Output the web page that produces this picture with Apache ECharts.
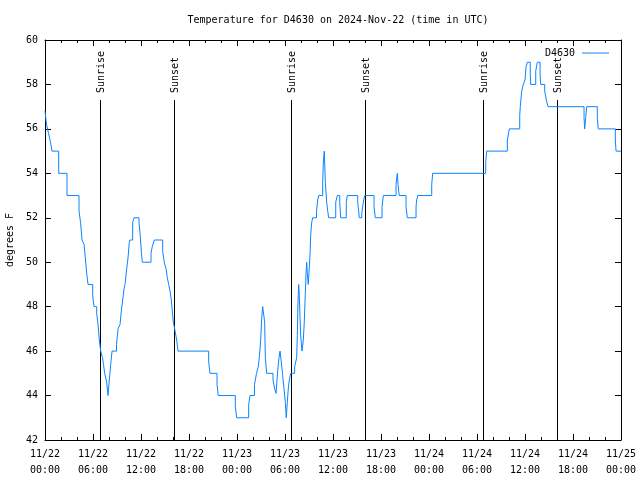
<!DOCTYPE html>
<html>
<head>
<meta charset="utf-8">
<script src="https://cdn.jsdelivr.net/npm/echarts@6/dist/echarts.min.js"></script>
<style>html,body{margin:0;padding:0;background:#fff}#c{width:640px;height:480px}</style>
</head>
<body>
<div id="c"></div>
<script>
// Hours since 11/22 00:00 UTC at which the reading changes, and the temperature (F) from then on
var timeHours = [0,0.19,0.44,0.69,0.88,1.71,2.75,4.25,4.44,4.63,4.88,5.04,5.21,5.38,5.96,6.13,6.46,6.63,6.79,6.96,
7.19,7.31,7.46,7.71,7.88,8.04,8.21,8.38,8.94,9.13,9.38,9.54,9.71,9.88,10.0,10.21,10.38,10.54,10.63,10.96,
11.13,11.75,11.88,12.04,12.16,13.25,13.41,13.66,14.71,14.91,15.13,15.29,15.46,15.63,15.79,15.91,16.04,16.21,16.46,16.63,
20.46,20.63,21.5,21.66,23.79,23.96,25.46,25.63,26.19,26.44,26.66,26.79,26.96,27.09,27.21,27.46,27.54,27.71,28.5,28.71,
28.88,29.0,29.13,29.25,29.38,29.54,29.71,29.88,30.04,30.16,30.29,30.41,30.54,30.71,31.21,31.46,31.54,31.63,31.71,31.79,
31.88,31.96,32.13,32.29,32.41,32.54,32.63,32.71,32.79,32.91,33.04,33.13,33.21,33.34,33.46,33.94,34.09,34.21,34.71,34.79,
34.91,35.04,35.21,35.34,35.46,36.34,36.54,36.84,36.96,37.66,37.79,39.09,39.29,39.59,39.71,39.84,39.96,41.13,41.29,42.13,
42.29,43.88,43.96,44.04,44.13,44.21,44.29,45.13,45.29,46.38,46.46,46.59,48.34,48.46,55.09,55.21,57.79,58.04,59.34,59.41,
59.59,59.79,60.0,60.13,60.29,60.66,60.71,61.34,61.54,61.88,61.96,62.46,62.66,62.88,67.38,67.46,67.59,67.71,69.04,69.16,
71.29,71.38,72];
var tempF = [56.8,56.2,55.8,55.4,55,54,53,52.3,51.8,51,50.8,50.2,49.5,49,48.5,48,47.7,47.2,46.5,46,
45.7,45.4,45,44.6,44,44.7,45.4,46,46.3,47,47.2,47.8,48.3,48.8,49,49.7,50.2,50.9,51,51.8,
52,51.8,51.3,50.5,50,50.4,50.7,51,50.5,50,49.7,49.3,49,48.7,48.3,47.8,47.3,47,46.5,46,
45.5,45,44.5,44,43.5,43,43.6,44,44.5,45,45.3,45.7,46.5,47.5,48,47.3,45.7,45,44.7,44.3,
44.1,44.7,45.3,45.7,46,45.5,44.9,44.3,43.7,43,43.7,44.3,44.7,45,45.3,45.7,46.7,48.3,49,48.5,
47.5,46.7,46,46.5,47.3,48.6,49.5,50,49.5,49,49.8,50.3,51.2,51.8,52,52.3,52.8,53,53.6,54.5,
55,53.6,52.7,52.3,52,52.7,53,52.7,52,52.7,53,52.7,52,52.2,52.5,52.8,53,52.5,52,52.5,
53,53.5,53.8,54,53.5,53.2,53,52.5,52,52.5,52.8,53,53.5,54,54.5,55,55.5,56,56.6,57,
57.7,58,58.2,58.8,59,58.5,58,58.6,59,58.5,58,57.7,57.3,57,56.5,56,56.5,57,56.5,56,
55.5,55,55];
// Sun events (hours since 11/22 00:00 UTC)
var sunHours = [6.91, 16.16, 30.79, 40.04, 54.79, 64.02];
var sunLabels = ["Sunrise", "Sunset", "Sunrise", "Sunset", "Sunrise", "Sunset"];
var yTicks = [42, 44, 46, 48, 50, 52, 54, 56, 58, 60];
var markerTop = 57.3;

var FONT = "'DejaVu Sans Mono', 'Liberation Mono', monospace";
function pad(n){ return (n < 10 ? '0' : '') + n; }
function fmtX(h){
  var day = 22 + Math.floor(h / 24);
  var hr = Math.round(h % 24);
  return '11/' + pad(day) + '\n' + pad(hr) + ':00';
}
var lineData = timeHours.map(function(t, i){ return [t, tempF[i]]; });
var sunData = sunHours.map(function(t, i){ return [t, i]; });

var chart = echarts.init(document.getElementById('c'), null, {renderer: 'canvas'});
var xBase = {
  type: 'value', min: 0, max: 72, interval: 6,
  axisLine: {show: true, onZero: false, lineStyle: {color: '#000', width: 1}},
  axisTick: {show: true, inside: true, length: 6, lineStyle: {color: '#000'}},
  minorTick: {show: true, splitNumber: 3, length: 3, lineStyle: {color: '#000'}},
  splitLine: {show: false}
};
var yBase = {
  type: 'value', min: yTicks[0], max: yTicks[yTicks.length - 1], interval: 2,
  axisLine: {show: true, onZero: false, lineStyle: {color: '#000', width: 1}},
  axisTick: {show: true, inside: true, length: 6, lineStyle: {color: '#000'}},
  splitLine: {show: false}
};
chart.setOption({
  animation: false,
  backgroundColor: '#fff',
  textStyle: {fontFamily: FONT},
  title: {
    text: 'Temperature for D4630 on 2024-Nov-22 (time in UTC)',
    left: 333, top: 10, textAlign: 'center',
    textStyle: {fontFamily: FONT, fontSize: 10, fontWeight: 'normal', color: '#000'}
  },
  legend: {
    right: 26, top: 43, align: 'right', icon: 'rect', itemWidth: 27, itemHeight: 1,
    data: ['D4630'],
    textStyle: {fontFamily: FONT, fontSize: 10, color: '#000', padding: [0, 2, 0, 0]}
  },
  grid: {left: 45, right: 19, top: 40, bottom: 40, containLabel: false, outerBoundsMode: 'none'},
  xAxis: [
    Object.assign({}, xBase, {
      position: 'bottom',
      axisLabel: {show: true, margin: 6, color: '#000', fontFamily: FONT, fontSize: 10, lineHeight: 16,
        formatter: fmtX, showMinLabel: true, showMaxLabel: true}
    }),
    Object.assign({}, xBase, {position: 'top', axisLabel: {show: false}})
  ],
  yAxis: [
    Object.assign({}, yBase, {
      position: 'left', name: 'degrees F', nameLocation: 'middle', nameGap: 30, nameRotate: 90,
      nameTextStyle: {fontFamily: FONT, fontSize: 10, color: '#000'},
      axisLabel: {show: true, margin: 7, color: '#000', fontFamily: FONT, fontSize: 10}
    }),
    Object.assign({}, yBase, {position: 'right', axisLabel: {show: false}})
  ],
  series: [
    {
      type: 'custom', name: 'sun', xAxisIndex: 0, yAxisIndex: 0, silent: true, z: 1,
      data: sunData,
      renderItem: function(params, api){
        var x = api.value(0);
        var idx = api.value(1);
        var p0 = api.coord([x, yTicks[0]]);
        var p1 = api.coord([x, markerTop]);
        var px = Math.round(p0[0]) + 0.5;
        return {
          type: 'group',
          children: [
            {type: 'line', shape: {x1: px, y1: p0[1], x2: px, y2: p1[1]},
             style: {stroke: '#000', lineWidth: 1}},
            {type: 'text', x: px + 1, y: p1[1] - 7, rotation: Math.PI / 2,
             style: {text: sunLabels[idx], fill: '#000', font: '10px ' + FONT,
               align: 'left', verticalAlign: 'middle'}}
          ]
        };
      }
    },
    {
      type: 'line', name: 'D4630', xAxisIndex: 0, yAxisIndex: 0, z: 3,
      data: lineData, step: 'end', symbol: 'none', showSymbol: false,
      color: '#0a84ff',
      lineStyle: {color: '#0a84ff', width: 1}
    }
  ]
});
</script>
</body>
</html>
